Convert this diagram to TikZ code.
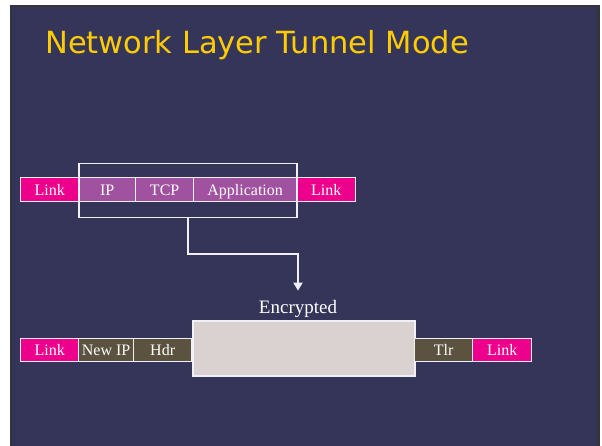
\documentclass[tikz,border=0pt]{standalone}
\usepackage{fontspec}
\setmainfont{Liberation Serif}
\newfontfamily\titlefont{DejaVu Sans}
\usetikzlibrary{arrows.meta,calc}

\definecolor{slidebg}{RGB}{53,53,90}
\definecolor{slideedge}{RGB}{52,52,58}
\definecolor{titleyellow}{RGB}{255,204,0}
\definecolor{linkpink}{RGB}{236,0,140}
\definecolor{ippurple}{RGB}{160,82,160}
\definecolor{hdrbrown}{RGB}{92,82,64}
\definecolor{cipher}{RGB}{218,210,208}
\definecolor{lineclr}{RGB}{240,240,246}

\begin{document}
\begin{tikzpicture}[x=1pt,y=-1pt,
  cell/.style={draw=lineclr, line width=1.3pt, minimum height=24pt,
    inner sep=0pt, anchor=north west, text=white,
    font=\fontsize{16}{16}\selectfont, text height=11pt, text depth=0pt},
  linkcell/.style={cell, fill=linkpink},
  payload/.style={cell, fill=ippurple},
  espcell/.style={cell, fill=hdrbrown},
  conn/.style={draw=lineclr, line width=1.8pt}]

% page and slide background
\useasboundingbox (0,0) rectangle (602,446);
\fill[white] (0,0) rectangle (602,446);
\fill[slideedge] (10,5) rectangle (600,446);
\fill[slidebg] (12,7) rectangle (597,446);

% title
\node[anchor=base west, inner sep=0pt, text=titleyellow,
      font=\titlefont\fontsize{30.5}{30.5}\selectfont] (title) at (45,54)
  {Network Layer Tunnel Mode};

% original packet
\node[linkcell, minimum width=58pt]  (l1)  at (20,177)  {Link};
\node[payload,  minimum width=57pt]  (ip)  at (78,177)  {IP};
\node[payload,  minimum width=58pt]  (tcp) at (135,177) {TCP};
\node[payload,  minimum width=103pt] (app) at (193,177) {Application};
\node[linkcell, minimum width=59pt]  (l2)  at (296,177) {Link};

% frame around the part that gets tunnelled
\node[draw=lineclr, line width=1.5pt, minimum width=218pt, minimum height=54pt,
      inner sep=0pt, anchor=north west] (frame) at (78,163) {};

% tunnelled packet
\node[linkcell, minimum width=58pt, minimum height=23pt] (l3)  at (20,338)  {Link};
\node[espcell,  minimum width=55pt, minimum height=23pt] (nip) at (78,338)  {New IP};
\node[espcell,  minimum width=58pt, minimum height=23pt] (hdr) at (133,338) {Hdr};
\node[draw=lineclr, fill=cipher, line width=1.5pt, minimum width=222pt,
      minimum height=55pt, inner sep=0pt, anchor=north west] (enc) at (192,320) {};
\node[espcell,  minimum width=58pt, minimum height=23pt] (tlr) at (414,338) {Tlr};
\node[linkcell, minimum width=59pt, minimum height=23pt] (l4)  at (472,338) {Link};

\node[anchor=base, inner sep=0pt, text=white,
      font=\fontsize{19}{19}\selectfont] (enclabel) at (298,313) {Encrypted};

% arrow from the frame down to the encrypted block
\coordinate (turn) at (298,254);
\draw[conn, -{Triangle[width=9pt,length=8pt]}]
  (frame.south) |- (turn) -- ($(enclabel.north)+(0,-9)$);
\end{tikzpicture}
\end{document}
